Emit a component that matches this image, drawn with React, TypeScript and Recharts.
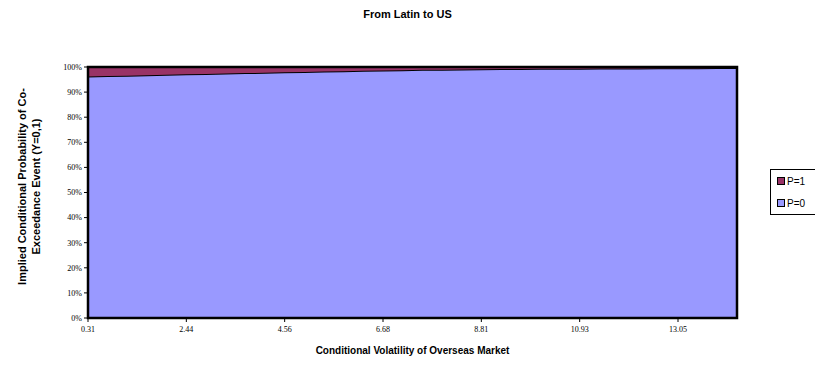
import { AreaChart, Area, XAxis, YAxis, ReferenceArea, Label } from "recharts";

// conditional volatility of the overseas market (category labels)
const volatility = [
  "0.31", "0.74", "1.16", "1.59", "2.01", "2.44", "2.86", "3.29", "3.71", "4.13",
  "4.56", "4.98", "5.41", "5.83", "6.26", "6.68", "7.11", "7.53", "7.96", "8.38",
  "8.81", "9.23", "9.66", "10.08", "10.50", "10.93", "11.35", "11.78", "12.20", "12.63",
  "13.05", "13.48", "13.90", "14.33",
];

// implied probability (%) of no co-exceedance
const p0 = [
  96.2, 96.38, 96.55, 96.72, 96.9, 97.07, 97.24, 97.4, 97.57, 97.73,
  97.89, 98.04, 98.2, 98.35, 98.5, 98.63, 98.75, 98.86, 98.95, 99.03,
  99.1, 99.16, 99.21, 99.26, 99.3, 99.34, 99.38, 99.42, 99.45, 99.48,
  99.51, 99.54, 99.57, 99.6,
];

// implied probability (%) of a co-exceedance
const p1 = [
  3.8, 3.62, 3.45, 3.28, 3.1, 2.93, 2.76, 2.6, 2.43, 2.27,
  2.11, 1.96, 1.8, 1.65, 1.5, 1.37, 1.25, 1.14, 1.05, 0.97,
  0.9, 0.84, 0.79, 0.74, 0.7, 0.66, 0.62, 0.58, 0.55, 0.52,
  0.49, 0.46, 0.43, 0.4,
];

const yTicks = [0, 10, 20, 30, 40, 50, 60, 70, 80, 90, 100];

const data = volatility.map((v, i) => ({ vol: v, p0: p0[i], p1: p1[i] }));

const tickStyle = { fontSize: 8, fill: "#000", fontFamily: "'Liberation Serif', serif" };
const titleFont = "'Liberation Sans', Arial, sans-serif";

// two-line rotated y-axis title
function YTitle(props: any) {
  const { viewBox } = props;
  const cy = viewBox.y + viewBox.height / 2 - 6;
  return (
    <g fontFamily={titleFont} fontSize={11} fontWeight="bold" fill="#000" textAnchor="middle">
      <text x={0} y={0} transform={`translate(26, ${cy}) rotate(-90)`}>
        Implied Conditional Probability of Co-
      </text>
      <text x={0} y={0} transform={`translate(39.5, ${cy}) rotate(-90)`}>
        Exceedance Event (Y=0,1)
      </text>
    </g>
  );
}

function LegendBox() {
  const item = (color: string, text: string) => (
    <div style={{ display: "flex", alignItems: "center", height: 22 }}>
      <span
        style={{
          width: 6,
          height: 6,
          background: color,
          border: "1px solid #000",
          marginRight: 2,
          marginLeft: 6,
        }}
      />
      <span>{text}</span>
    </div>
  );
  return (
    <div
      style={{
        position: "absolute",
        left: 770,
        top: 169,
        width: 60,
        height: 44,
        borderLeft: "1px solid #000",
        borderTop: "1px solid #000",
        borderBottom: "1px solid #000",
        fontFamily: titleFont,
        fontSize: 10,
        color: "#000",
      }}
    >
      {item("#993366", "P=1")}
      {item("#9999FF", "P=0")}
    </div>
  );
}

export default function App() {
  return (
    <div
      style={{
        position: "absolute",
        left: 0,
        top: 0,
        width: 815,
        height: 365,
        background: "#fff",
        overflow: "hidden",
      }}
    >
      <div
        style={{
          position: "absolute",
          top: 8,
          width: 815,
          textAlign: "center",
          fontFamily: titleFont,
          fontSize: 11,
          fontWeight: "bold",
        }}
      >
        From Latin to US
      </div>
      <AreaChart
        width={815}
        height={365}
        data={data}
        margin={{ top: 67, right: 78, bottom: 17, left: 38 }}
      >
        <XAxis
          dataKey="vol"
          interval={4}
          tick={tickStyle}
          tickSize={4}
          tickMargin={4}
          axisLine={{ stroke: "#000" }}
          tickLine={{ stroke: "#000" }}
        >
          <Label
            value="Conditional Volatility of Overseas Market"
            position="bottom"
            offset={-1}
            style={{ fontFamily: titleFont, fontSize: 10, fontWeight: "bold", fill: "#000" }}
          />
        </XAxis>
        <YAxis
          width={50}
          domain={[0, 100]}
          ticks={yTicks}
          interval={0}
          tick={tickStyle}
          tickSize={4}
          tickMargin={2}
          tickFormatter={(v: number) => `${v}%`}
          axisLine={{ stroke: "#000" }}
          tickLine={{ stroke: "#000" }}
        >
          <Label content={<YTitle />} />
        </YAxis>
        <Area
          type="linear"
          dataKey="p0"
          stackId="a"
          fill="#9999FF"
          fillOpacity={1}
          stroke="#000"
          strokeWidth={2}
          isAnimationActive={false}
        />
        <Area
          type="linear"
          dataKey="p1"
          stackId="a"
          fill="#993366"
          fillOpacity={1}
          stroke="#000"
          strokeWidth={2}
          isAnimationActive={false}
        />
        {/* heavy frame around the plot */}
        <ReferenceArea
          x1={volatility[0]}
          x2={volatility[volatility.length - 1]}
          y1={0}
          y2={100}
          fill="none"
          stroke="#000"
          strokeWidth={2.5}
        />
      </AreaChart>
      <LegendBox />
    </div>
  );
}
